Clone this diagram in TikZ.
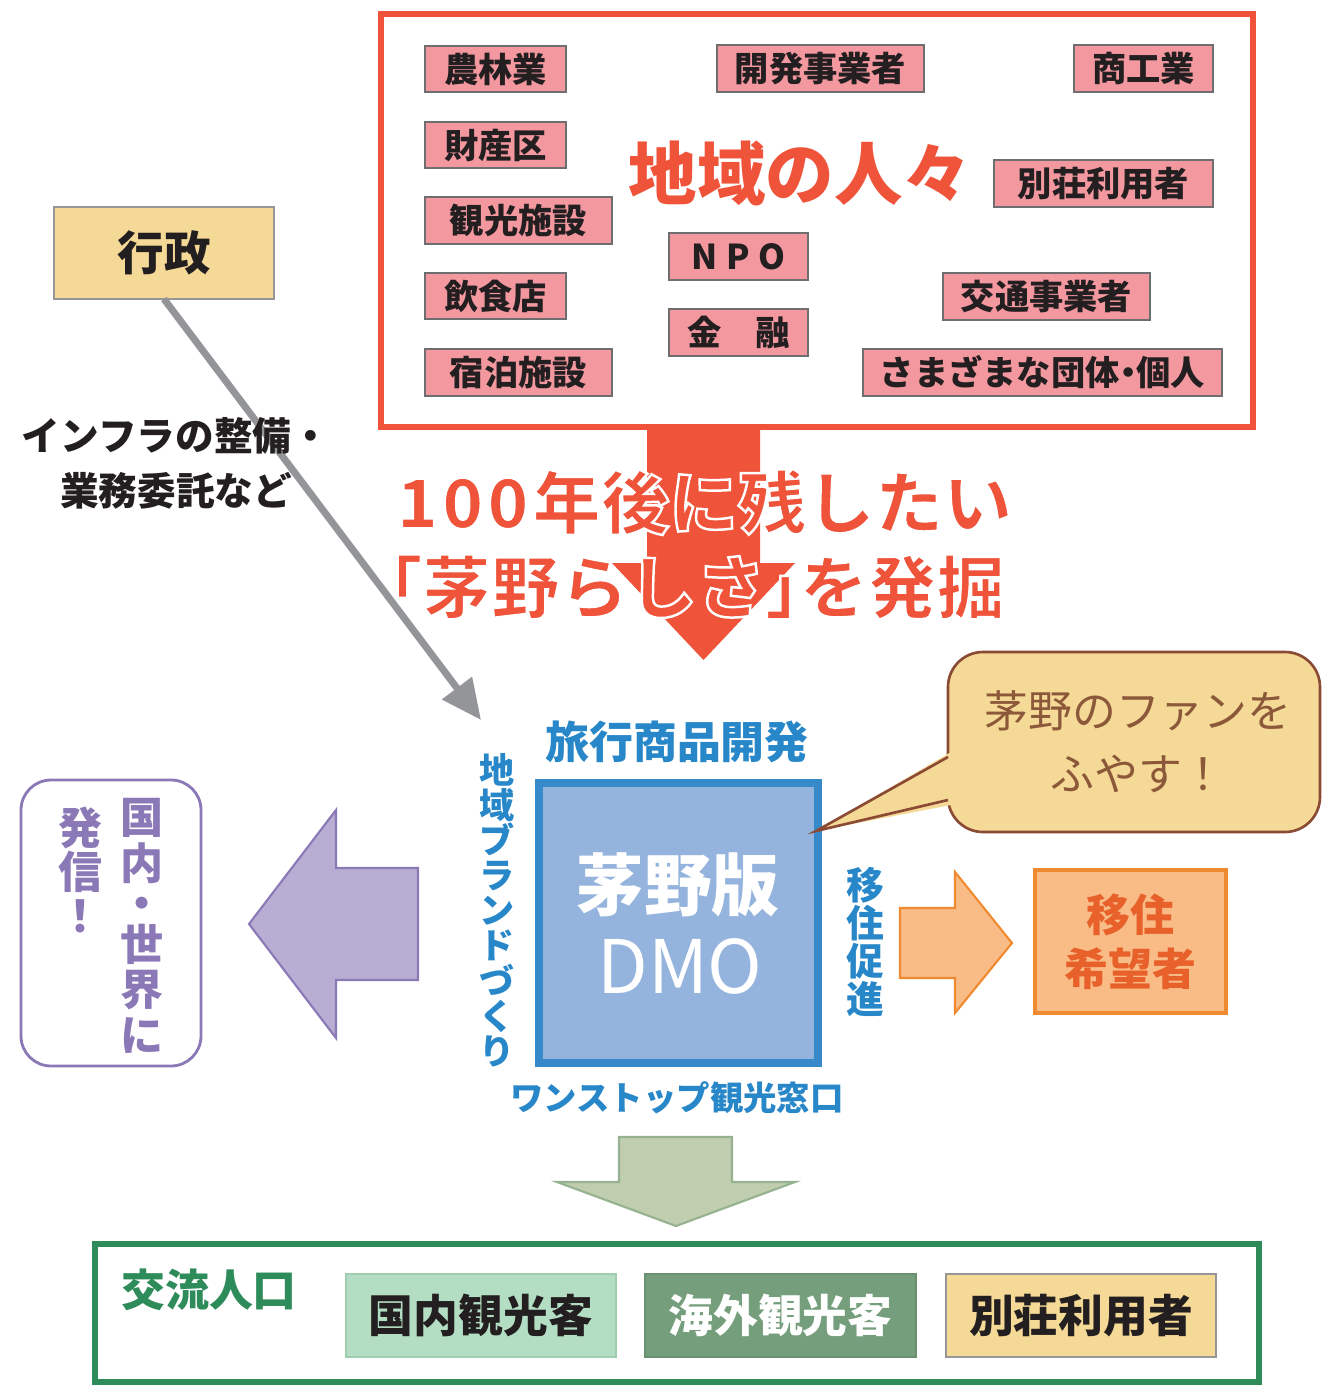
\documentclass[tikz,border=0pt]{standalone}
\usepackage{fontspec}
\setmainfont{Noto Sans CJK JP}
\usetikzlibrary{fit,arrows.meta}
\definecolor{myred}{RGB}{239,84,58}
\definecolor{pinkf}{RGB}{244,152,160}
\definecolor{pinkl}{RGB}{110,110,112}
\definecolor{yellowf}{RGB}{245,217,150}
\definecolor{grayl}{RGB}{150,150,152}
\definecolor{grayarr}{RGB}{147,149,152}
\definecolor{txt}{RGB}{35,31,32}
\definecolor{bluel}{RGB}{55,138,201}
\definecolor{bluef}{RGB}{149,180,221}
\definecolor{bluet}{RGB}{40,135,200}
\definecolor{brownl}{RGB}{139,74,52}
\definecolor{brownt}{RGB}{140,88,58}
\definecolor{orangef}{RGB}{249,188,134}
\definecolor{orangel}{RGB}{240,138,48}
\definecolor{oranget}{RGB}{232,96,42}
\definecolor{purplef}{RGB}{184,173,211}
\definecolor{purplel}{RGB}{139,120,182}
\definecolor{greenaf}{RGB}{193,205,175}
\definecolor{greenal}{RGB}{150,178,145}
\definecolor{greenb}{RGB}{46,139,90}
\definecolor{lgreenf}{RGB}{180,222,196}
\definecolor{lgreenl}{RGB}{160,205,175}
\definecolor{dgreenf}{RGB}{117,158,124}
\definecolor{dgreenl}{RGB}{105,145,112}
\newcommand\whiteoutline[1]{\special{pdf:literal direct 1 1 1 RG 2 Tr 1.4 w}#1\special{pdf:literal direct 0 Tr}}
\begin{document}
\begin{tikzpicture}[x=0.02cm,y=-0.02cm,
  every node/.style={inner sep=0pt,outer sep=0pt},
  corners/.style args={#1/#2/#3/#4}{minimum width={(#3-#1)*0.02cm},minimum height={(#4-#2)*0.02cm},at={({(#1+#3)/2},{(#2+#4)/2})}},
  pinkbox/.style={draw=pinkl,fill=pinkf,line width=1.2pt,text=txt,font=\bfseries\fontsize{19.5}{22}\selectfont},
  redtext/.style={text=myred,font=\bfseries\fontsize{39}{44}\selectfont},
  bluetext/.style={text=bluet,align=center},
  flatbox/.style={line width=1.2pt,font=\bfseries\fontsize{25.5}{28}\selectfont},
  shapeline/.style={line width=1.2pt,line join=miter}]
\useasboundingbox (0,0) rectangle (1323,1386);

% red arrow and the people's box
\fill[myred] (647,428) -- (760,428) -- (760,563) -- (795,563) -- (703.5,660) -- (612,563) -- (647,563) -- cycle;
\node[draw=myred,line width=3.4pt,fit={(381,14)(1253,427)}] (people) {};
\node[pinkbox,corners=425/46/566/92] (noringyo) {農林業};
\node[pinkbox,corners=717/45/924/92] (kaihatsu) {開発事業者};
\node[pinkbox,corners=1074/45/1213/92] (shoko) {商工業};
\node[pinkbox,corners=425/122/566/168] (zaisanku) {財産区};
\node[pinkbox,corners=994/160/1213/207] (besso) {別荘利用者};
\node[pinkbox,corners=425/197/612/244] (kanko) {観光施設};
\node[pinkbox,corners=669/233/808/280] (npo) {N\kern5pt P\kern5pt O};
\node[pinkbox,corners=425/273/566/319] (inshoku) {飲食店};
\node[pinkbox,corners=943/273/1150/320] (kotsu) {交通事業者};
\node[pinkbox,corners=669/309/808/356] (kinyu) {金　融};
\node[pinkbox,corners=425/349/612/396] (shukuhaku) {宿泊施設};
\node[pinkbox,corners=863/349/1222/396] (samazama) {さまざまな団体\kern-.25em・\kern-.25em個人};
\node[redtext] (hitobito) at (800,173) {地域の人々};

% slogan
\node[redtext,anchor=east] (slogan1) at (1012,502) {\whiteoutline{1\kern2pt 0\kern2pt 0\kern2pt 年後に残したい}};
\node[redtext,anchor=east] (slogan2) at (1005,587) {\whiteoutline{「茅野らしさ」\kern-0.5em を発掘}};

% administration
\node[draw=grayl,fill=yellowf,line width=1.2pt,text=txt,font=\bfseries\fontsize{26.5}{30}\selectfont,corners=54/207/274/299] (gyosei) {行政};
\coordinate (graytip) at (481,720);
\draw[grayarr,line width=4pt,-{Triangle[length=0.8cm,width=0.72cm]}] (gyosei.south) -- (graytip);
\node[align=center,text=txt,font=\bfseries\fontsize{22}{31.3}\selectfont] (infra) at (176,463) {インフラの整備・\\業務委託など};

% DMO
\node[draw=bluel,fill=bluef,line width=4.5pt,fit={(539,783)(818,1063)}] (dmo) {};
\node[text=white,font=\bfseries\fontsize{38.5}{42}\selectfont] (dmo1) at (678,885) {茅野版};
\node[text=white,font=\fontsize{42}{46}\selectfont] (dmo2) at (680,966) {DMO};
\node[bluetext,font=\bfseries\fontsize{25}{28}\selectfont] (ryoko) at (677,742) {旅行商品開発};
\node[bluetext,font=\bfseries\fontsize{20}{20}\selectfont] (brand) at (497,910) {地\\域\\ブ\\ラ\\ン\\ド\\づ\\く\\り};
\node[bluetext,font=\bfseries\fontsize{21.5}{21.6}\selectfont] (iju) at (865,942) {移\\住\\促\\進};
\node[bluetext,font=\bfseries\fontsize{19}{22}\selectfont] (onestop) at (677,1098) {ワンストップ観光窓口};

% speech bubble
\node[draw=brownl,fill=yellowf,line width=1.5pt,rounded corners=0.7cm,fit={(948,652)(1320,832)}] (bubble) {};
\coordinate (ptr) at (816,831);
\fill[yellowf] (951,752) -- (ptr) -- (951,805) -- cycle;
\draw[brownl,line width=1.5pt,line join=miter] (948,757) -- (ptr) -- (948,800);
\node[align=center,text=brownt,font=\fontsize{25}{36}\selectfont] (fan) at (1138,742) {茅野のファンを\\ふやす！};

% migration
\draw[shapeline,draw=orangel,fill=orangef] (900,908) -- (955,908) -- (955,872) -- (1012,943) -- (955,1013) -- (955,978) -- (900,978) -- cycle;
\node[draw=orangel,fill=orangef,line width=1.8pt,align=center,text=oranget,font=\bfseries\fontsize{25}{30.7}\selectfont,corners=1035/870/1226/1013] (kibosha) {移住\\希望者};

% outward
\draw[shapeline,draw=purplel,fill=purplef] (418,868) -- (336,868) -- (336,810) -- (249,924) -- (336,1038) -- (336,980) -- (418,980) -- cycle;
\node[draw=purplel,line width=1.6pt,rounded corners=0.6cm,fit={(21,780)(201,1066)}] (hasshin) {};
\node[align=center,text=purplel,font=\bfseries\fontsize{24.5}{26}\selectfont] (kokunai) at (142,926) {国\\内\\[-3pt]・\\[-3pt]世\\界\\に};
\node[align=center,text=purplel,font=\bfseries\fontsize{25}{25}\selectfont] (hasshintxt) at (80,870) {発\\信\\！};

% exchange population
\draw[shapeline,draw=greenal,fill=greenaf] (619,1137) -- (732,1137) -- (732,1182) -- (795,1182) -- (676,1226) -- (557,1182) -- (619,1182) -- cycle;
\node[draw=greenb,line width=3.4pt,fit={(95,1244)(1259,1382)}] (koryu) {};
\node[text=greenb,font=\bfseries\fontsize{25}{28}\selectfont] (koryutxt) at (209,1290) {交流人口};
\node[flatbox,draw=lgreenl,fill=lgreenf,text=txt,corners=346/1274/616/1357] (kokunaik) {国内観光客};
\node[flatbox,draw=dgreenl,fill=dgreenf,text=white,corners=645/1274/916/1357] (kaigai) {海外観光客};
\node[flatbox,draw=grayl,fill=yellowf,text=txt,corners=946/1274/1216/1357] (bessob) {別荘利用者};
\end{tikzpicture}
\end{document}
